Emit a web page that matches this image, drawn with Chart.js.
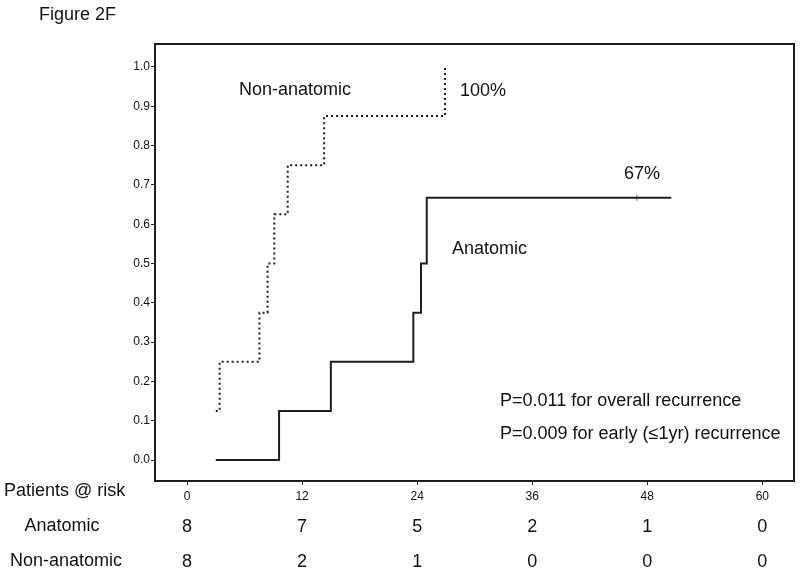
<!DOCTYPE html>
<html>
<head>
<meta charset="utf-8">
<script src="https://cdn.jsdelivr.net/npm/chart.js@4.4.1/dist/chart.umd.min.js"></script>
<style>
  html, body { margin: 0; padding: 0; background: #fff; }
  canvas { display: block; }
</style>
</head>
<body>
<canvas id="kmChart" width="800" height="572"></canvas>
<script>
// ---- data (months, cumulative recurrence) ----
const anatomicMonths = [3.0, 9.6, 15.0, 23.6, 24.4, 25.0, 50.5];
const anatomicValues = [0, 0.125, 0.25, 0.375, 0.5, 0.667, 0.667];
const anatomicCensorMonths = [46.9];
const anatomicCensorValues = [0.667];

const nonAnatomicMonths = [3.0, 3.4, 7.55, 8.4, 9.1, 10.5, 14.3, 26.9];
const nonAnatomicValues = [0.125, 0.25, 0.375, 0.5, 0.625, 0.75, 0.875, 1.0];

const riskMonths = [0, 12, 24, 36, 48, 60];
const anatomicRisk = [8, 7, 5, 2, 1, 0];
const nonAnatomicRisk = [8, 2, 1, 0, 0, 0];

const INK = "#1e1e1e";
const FONT = "'Liberation Sans', Arial, Helvetica, sans-serif";

function toPoints(xs, ys) {
  return xs.map((x, i) => ({ x: x, y: ys[i] }));
}

// box around plot + annotations + risk table
const extrasPlugin = {
  id: "extras",
  afterDraw(chart) {
    const ctx = chart.ctx;
    const a = chart.chartArea;
    const xs = chart.scales.x;

    ctx.save();
    ctx.strokeStyle = INK;
    ctx.lineWidth = 2;
    ctx.strokeRect(a.left, a.top, a.right - a.left, a.bottom - a.top);

    ctx.fillStyle = "#111";
    ctx.font = "18px " + FONT;
    ctx.textBaseline = "middle";
    ctx.textAlign = "left";
    ctx.fillText("Figure 2F", 39, 15);
    ctx.fillText("Non-anatomic", 239, 90);
    ctx.fillText("100%", 460, 91);
    ctx.fillText("67%", 624, 174);
    ctx.fillText("Anatomic", 452, 249);
    ctx.fillText("P=0.011 for overall recurrence", 500, 401);
    ctx.fillText("P=0.009 for early (\u22641yr) recurrence", 500, 434);

    // patients at risk
    ctx.fillText("Patients @ risk", 4, 491);
    ctx.textAlign = "center";
    ctx.fillText("Anatomic", 62, 526);
    ctx.fillText("Non-anatomic", 66, 561);
    riskMonths.forEach((m, i) => {
      const px = xs.getPixelForValue(m);
      ctx.fillText(String(anatomicRisk[i]), px, 527);
      ctx.fillText(String(nonAnatomicRisk[i]), px, 562);
    });
    ctx.restore();
  },
};

new Chart(document.getElementById("kmChart"), {
  type: "scatter",
  data: {
    datasets: [
      {
        label: "Non-anatomic",
        data: toPoints(nonAnatomicMonths, nonAnatomicValues),
        showLine: true,
        stepped: "before",
        borderColor: INK,
        borderWidth: 2,
        borderDash: [2, 3],
        pointRadius: 0,
      },
      {
        label: "Anatomic",
        data: toPoints(anatomicMonths, anatomicValues),
        showLine: true,
        stepped: "before",
        borderColor: INK,
        borderWidth: 2,
        pointRadius: 0,
      },
      {
        label: "Censored",
        data: toPoints(anatomicCensorMonths, anatomicCensorValues),
        showLine: false,
        pointStyle: "line",
        rotation: 90,
        pointRadius: 3,
        borderColor: "#777",
        borderWidth: 1,
      },
    ],
  },
  options: {
    responsive: false,
    animation: false,
    layout: { padding: { left: 0, right: 6, top: 44, bottom: 0 } },
    plugins: {
      legend: { display: false },
      tooltip: { enabled: false },
    },
    scales: {
      x: {
        type: "linear",
        min: -3.34,
        max: 63.3,
        afterFit: (s) => { s.height = 91; },
        grid: { drawOnChartArea: false, drawTicks: true, tickLength: 4, color: INK },
        border: { display: false },
        ticks: {
          stepSize: 12,
          includeBounds: false,
          color: "#111",
          font: { family: FONT, size: 12 },
          padding: 4,
          maxRotation: 0,
        },
      },
      y: {
        type: "linear",
        min: -0.0534,
        max: 1.0585,
        afterFit: (s) => { s.width = 155; },
        grid: { drawOnChartArea: false, drawTicks: true, tickLength: 4, color: INK },
        border: { display: false },
        ticks: {
          stepSize: 0.1,
          includeBounds: false,
          color: "#111",
          font: { family: FONT, size: 12 },
          padding: 1,
          callback: (v) => Number(v).toFixed(1),
        },
      },
    },
  },
  plugins: [extrasPlugin],
});
</script>
</body>
</html>
